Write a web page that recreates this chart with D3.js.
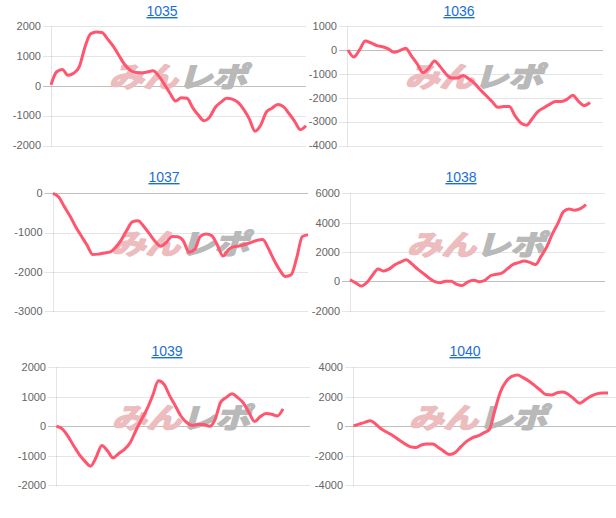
<!DOCTYPE html>
<html lang="ja">
<head>
<meta charset="UTF-8">
<title>みんレポ</title>
<script src="https://cdn.jsdelivr.net/npm/d3@7"></script>
<style>
	html,body{margin:0;padding:0;background:#fff;}
	svg{display:block;}
	.tick-label{font-family:"Liberation Sans",Arial,sans-serif;font-size:11px;fill:#666;}
	.title{font-family:"Liberation Sans",Arial,sans-serif;font-size:14px;fill:#1a6ed8;text-decoration:underline;}
</style>
</head>
<body>
<svg id="svg" width="616" height="518"></svg>
<script>
var titles = ["1035", "1036", "1037", "1038", "1039", "1040"];

var data1035 = [30, 470, 545, 350, 420, 640, 1300, 1740, 1800, 1780, 1560, 1320, 1010, 710, 520, 440,
	430, 460, 500, 330, 50, -250, -510, -400, -420, -730, -980, -1170, -1050, -720, -550, -420,
	-450, -560, -790, -1110, -1520, -1320, -880, -750, -630, -700, -930, -1190, -1470, -1340];
var data1036 = [0, -300, 0, 370, 290, 180, 130, 40, -100, -30, 70, -250, -580, -950, -770, -460,
	-700, -1010, -1180, -1180, -1070, -1220, -1410, -1680, -1920, -2160, -2400, -2370, -2370, -2760,
	-3060, -3150, -2870, -2570, -2420, -2280, -2160, -2160, -2070, -1900, -2150, -2330, -2200];
var data1037 = [0, -95, -340, -580, -850, -1090, -1320, -1560, -1550, -1520, -1500, -1390, -1200, -950,
	-730, -700, -840, -1030, -1220, -1350, -1250, -1100, -1110, -1210, -1500, -1430, -1100, -1040,
	-1080, -1320, -1600, -1430, -1360, -1340, -1300, -1250, -1200, -1180, -1400, -1700, -1950, -2120,
	-2080, -1650, -1100, -1060];
var data1038 = [110, -100, -320, -80, 420, 840, 700, 850, 1130, 1310, 1470, 1190, 850, 550, 250, 0,
	-90, 0, 0, -200, -280, -30, 80, -20, 70, 380, 480, 560, 850, 1150, 1280, 1380, 1290, 1140, 1700,
	2330, 3220, 3950, 4750, 4930, 4840, 4950, 5230];
var data1039 = [0, -90, -330, -650, -950, -1180, -1350, -1050, -650, -830, -1070, -920, -780, -560,
	-150, 230, 590, 1050, 1540, 1420, 1030, 690, 340, 130, 30, 60, 60, 0, 230, 820, 980, 1100, 970,
	790, 460, 160, 330, 430, 410, 350, 590];
var data1040 = [45, 150, 270, 370, 120, -200, -420, -640, -910, -1160, -1380, -1440, -1270, -1200,
	-1200, -1430, -1700, -1920, -1780, -1380, -1020, -780, -650, -450, -230, 1100, 2350, 3050, 3380,
	3480, 3300, 3070, 2770, 2460, 2160, 2130, 2270, 2320, 2160, 1850, 1560, 1800, 2050, 2200, 2260, 2260];

var ticks1035 = [-2000, -1000, 0, 1000, 2000];
var ticks1036 = [-4000, -3000, -2000, -1000, 0, 1000];
var ticks1037 = [-3000, -2000, -1000, 0];
var ticks1038 = [-2000, 0, 2000, 4000, 6000];
var ticks1039 = [-2000, -1000, 0, 1000, 2000];
var ticks1040 = [-4000, -2000, 0, 2000, 4000];

var series = [data1035, data1036, data1037, data1038, data1039, data1040];
var tickSets = [ticks1035, ticks1036, ticks1037, ticks1038, ticks1039, ticks1040];

// panel placement: title centre/baseline, y axis x, plot top/bottom, grid right end, line x start/end, logo centre
var layout = [
	{tx:162, ty:16,  ax:51,  top:26,  bottom:145.5, gr:306, x0:51,  x1:306, lx:178, ly:77},
	{tx:459, ty:16,  ax:347, top:26,  bottom:145.5, gr:603, x0:348, x1:590, lx:474, ly:77},
	{tx:164, ty:182, ax:52.5,top:193.3,bottom:311,  gr:308, x0:53,  x1:308, lx:180, ly:244},
	{tx:461, ty:182, ax:350, top:193.3,bottom:310.7,gr:605, x0:350, x1:586, lx:476, ly:245},
	{tx:167, ty:356, ax:56,  top:367.3,bottom:485.3,gr:310, x0:56.5,x1:283, lx:181, ly:418},
	{tx:465, ty:356, ax:353, top:367.3,bottom:485.3,gr:620, x0:353.5,x1:608,lx:478, ly:418}
];

var svg = d3.select("svg");

series.forEach(function(d, i){
	var L = layout[i], t = tickSets[i];
	var g = svg.append("g");

	var y = d3.scaleLinear()
		.domain(d3.extent(t))
		.range([L.bottom, L.top]);
	var x = d3.scaleLinear()
		.domain([0, d.length - 1])
		.range([L.x0, L.x1]);

	g.append("text")
		.attr("class", "title")
		.attr("x", L.tx)
		.attr("y", L.ty)
		.attr("text-anchor", "middle")
		.text(titles[i]);

	// horizontal grid + labels
	g.selectAll(".grid").data(t).enter().append("line")
		.attr("x1", L.ax - 8)
		.attr("x2", L.gr)
		.attr("y1", function(v){ return Math.round(y(v)) + 0.5; })
		.attr("y2", function(v){ return Math.round(y(v)) + 0.5; })
		.attr("stroke", function(v){ return v === 0 ? "rgba(0,0,0,0.25)" : "rgba(0,0,0,0.1)"; })
		.attr("stroke-width", 1);

	g.selectAll(".tick-label").data(t).enter().append("text")
		.attr("class", "tick-label")
		.attr("x", L.ax - 10)
		.attr("y", function(v){ return y(v); })
		.attr("dy", "0.35em")
		.attr("text-anchor", "end")
		.text(function(v){ return v; });

	g.append("line")
		.attr("x1", Math.round(L.ax) + 0.5)
		.attr("x2", Math.round(L.ax) + 0.5)
		.attr("y1", L.top)
		.attr("y2", L.bottom + 1)
		.attr("stroke", "rgba(0,0,0,0.1)");

	// watermark logo
	var logo = g.append("text")
		.attr("transform", "translate(" + L.lx + "," + (L.ly + 10) + ") skewX(-16) scale(1,0.9)")
		.attr("text-anchor", "middle")
		.attr("font-family", "'Noto Sans CJK JP', sans-serif")
		.attr("font-weight", 700)
		.attr("font-size", 31)
		.attr("stroke-width", 2)
		.attr("stroke-linejoin", "round")
		.attr("textLength", 138)
		.attr("lengthAdjust", "spacingAndGlyphs");
	logo.append("tspan").attr("fill", "#ecbcbe").attr("stroke", "#ecbcbe").text("みん");
	logo.append("tspan").attr("fill", "#b9b9b9").attr("stroke", "#b9b9b9").text("レポ");

	var line = d3.line()
		.x(function(v, k){ return x(k); })
		.y(function(v){ return y(v); })
		.curve(d3.curveMonotoneX);

	g.append("path")
		.datum(d)
		.attr("d", line)
		.attr("fill", "none")
		.attr("stroke", "rgb(255,85,110)")
		.attr("stroke-width", 3)
		.attr("stroke-linejoin", "round");
});
</script>
</body>
</html>
